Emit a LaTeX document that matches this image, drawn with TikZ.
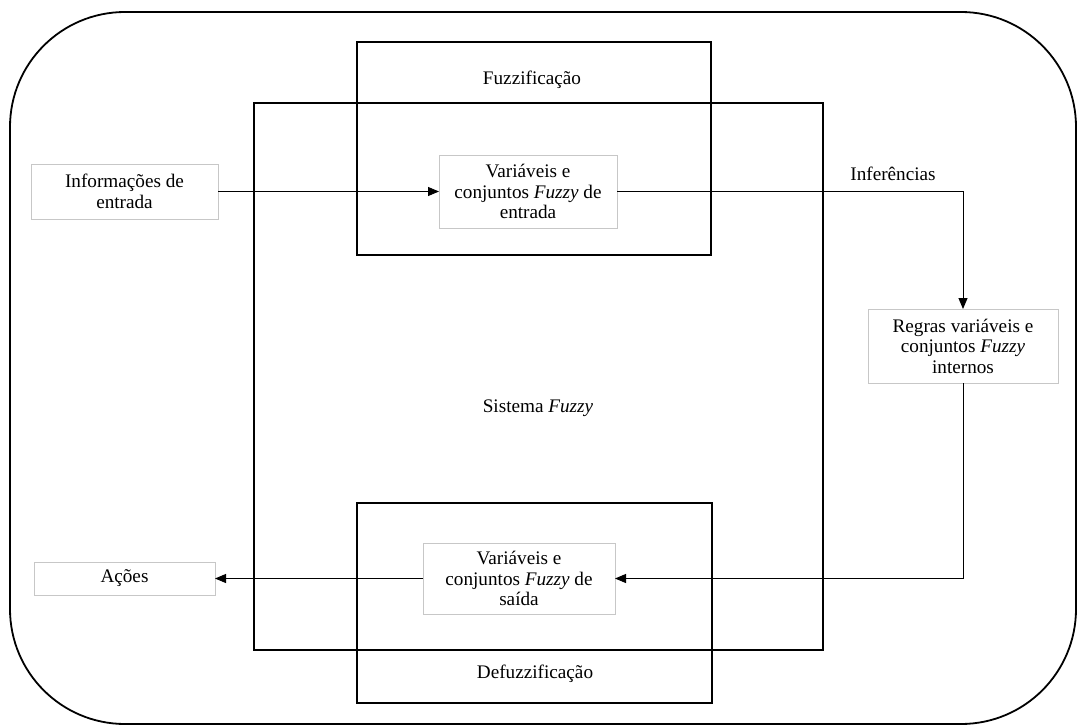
\documentclass[tikz,border=0pt]{standalone}
\usepackage{fontspec}
\setmainfont{Liberation Serif}
\usetikzlibrary{arrows.meta}
\begin{document}
\begin{tikzpicture}[x=1pt,y=-1pt,
  txt/.style={font=\fontsize{19.2}{20.5}\selectfont, align=center},
  frame/.style={draw=black, line width=2pt, inner sep=0pt, outer sep=0pt},
  gbox/.style={txt, draw=black!22, line width=1pt, fill=white, inner sep=0pt, outer sep=0pt},
  conn/.style={line width=1pt, -{Triangle[length=11pt,width=9pt]}}
]
\useasboundingbox (0,0) rectangle (1077,725);

% outer rounded boundary
\draw[line width=1.8pt, rounded corners=115pt] (10,12) rectangle (1076,724);

% main blocks
\node[frame, minimum width=569pt, minimum height=547pt] (sis) at (538.5,376.5) {};
\node[frame, minimum width=354pt, minimum height=213pt] (fuz) at (534,148.5) {};
\node[frame, minimum width=355pt, minimum height=200pt] (defuz) at (534.5,603) {};

\node[txt] (fuzlbl) at (532,80) {Fuzzificação};
\node[txt] (sislbl) at (538,408) {Sistema \textit{Fuzzy}};
\node[txt] (defuzlbl) at (535,674) {Defuzzificação};

% inner boxes
\node[gbox, minimum width=187pt, minimum height=55pt] (info) at (124.5,191.5) {Informações de\\entrada};
\node[gbox, minimum width=178pt, minimum height=73pt] (in) at (528,191.5) {Variáveis e\\conjuntos \textit{Fuzzy} de\\entrada};
\node[gbox, minimum width=190pt, minimum height=74pt] (regras) at (963,346) {Regras variáveis e\\conjuntos \textit{Fuzzy}\\internos};
\node[gbox, minimum width=192pt, minimum height=71pt] (out) at (519,578.5) {Variáveis e\\conjuntos \textit{Fuzzy} de\\saída};
\node[gbox, minimum width=181pt, minimum height=33pt] (acoes) at (124.5,578.5) {Ações};

\node[txt] (inf) at (893,174) {Inferências};

% connectors
\draw[conn] (info.east) -- (in.west);
\draw[conn] (in.east) -| (regras.north);
\draw[conn] (regras.south) |- (out.east);
\draw[conn] (out.west) -- (acoes.east);
\end{tikzpicture}
\end{document}
